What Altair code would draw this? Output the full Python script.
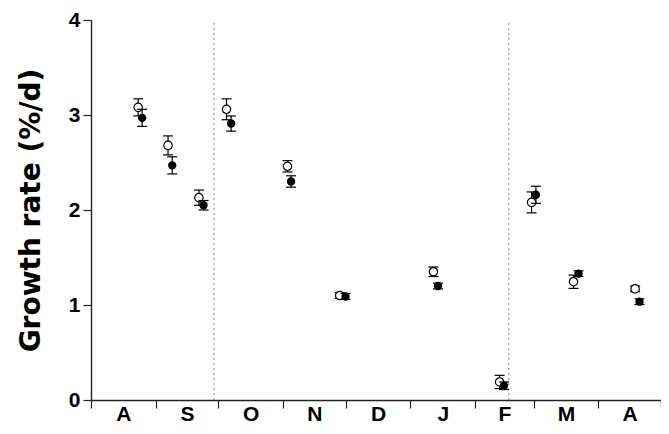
import altair as alt
import pandas as pd

# Calendar: Aug .. Apr, day 0 = 1 August
month_letters = ["A", "S", "O", "N", "D", "J", "F", "M", "A"]
month_days = [31, 30, 31, 30, 31, 31, 28, 31, 30]

# Open circles
open_day = [22.6, 36.9, 51.7, 64.9, 94.1, 119.1, 164.0, 195.7, 211.0, 231.1, 260.6]
open_rate = [3.08, 2.68, 2.13, 3.06, 2.46, 1.10, 1.35, 0.19, 2.08, 1.245, 1.17]
open_err = [0.09, 0.10, 0.08, 0.11, 0.06, 0.03, 0.05, 0.07, 0.11, 0.07, 0.03]

# Filled circles
filled_day = [24.5, 38.9, 53.9, 67.1, 95.8, 121.9, 166.2, 197.8, 213.1, 233.5, 262.7]
filled_rate = [2.97, 2.47, 2.05, 2.91, 2.30, 1.09, 1.20, 0.15, 2.16, 1.33, 1.035]
filled_err = [0.09, 0.09, 0.05, 0.08, 0.06, 0.03, 0.03, 0.04, 0.09, 0.03, 0.03]

# Dotted dividers
divider_day = [58.9, 200.1]

y_ticks = [0, 1, 2, 3, 4]

# month boundaries and mid-points derived from calendar lengths
boundaries = [0]
for d in month_days:
    boundaries.append(boundaries[-1] + d)
mids = [(boundaries[i] + boundaries[i + 1]) / 2 for i in range(len(month_days))]
total = boundaries[-1]

label_expr = "''"
for b, l in reversed(list(zip(boundaries[1:], month_letters))):
    label_expr = f"datum.value < {b} ? '{l}' : ({label_expr})"

W, H = 570, 380

open_df = pd.DataFrame({"day": open_day, "rate": open_rate,
                        "lo": [r - e for r, e in zip(open_rate, open_err)],
                        "hi": [r + e for r, e in zip(open_rate, open_err)]})
filled_df = pd.DataFrame({"day": filled_day, "rate": filled_rate,
                          "lo": [r - e for r, e in zip(filled_rate, filled_err)],
                          "hi": [r + e for r, e in zip(filled_rate, filled_err)]})
div_df = pd.DataFrame({"day": divider_day, "y0": [0, 0], "y1": [4, 4]})
mid_df = pd.DataFrame({"mid": mids, "letter": month_letters})

xscale = alt.Scale(domain=[0, total], nice=False, zero=False)
yscale = alt.Scale(domain=[0, 4], nice=False)

x_main_axis = alt.Axis(values=boundaries, labels=False, tickSize=8, tickColor="#222",
                       tickWidth=1.2, domainColor="#222", domainWidth=1.4, grid=False,
                       title=None, orient="bottom")
y_axis = alt.Axis(values=y_ticks, format="d", tickSize=8, tickColor="#222", tickWidth=1.2,
                  domainColor="#222", domainWidth=1.4, grid=False,
                  labelFont="Liberation Sans", labelFontSize=21, labelFontWeight="bold",
                  labelColor="black", labelPadding=3,
                  title="Growth rate (%/d)", titleFont="DejaVu Sans", titleFontSize=28,
                  titleFontWeight="bold", titleColor="black", titlePadding=23)

dividers = alt.Chart(div_df).mark_rule(color="#888", strokeDash=[2, 3], strokeWidth=1).encode(
    x=alt.X("day:Q", scale=xscale, axis=x_main_axis),
    y=alt.Y("y0:Q", scale=yscale, axis=y_axis),
    y2="y1:Q",
)

def errbars(df):
    rule = alt.Chart(df).mark_rule(color="black", strokeWidth=1.2).encode(
        x=alt.X("day:Q", scale=xscale), y=alt.Y("lo:Q", scale=yscale), y2="hi:Q")
    lo = alt.Chart(df).mark_tick(orient="horizontal", size=10, thickness=1.2, color="black",
                                 opacity=1).encode(
        x=alt.X("day:Q", scale=xscale), y=alt.Y("lo:Q", scale=yscale))
    hi = alt.Chart(df).mark_tick(orient="horizontal", size=10, thickness=1.2, color="black",
                                 opacity=1).encode(
        x=alt.X("day:Q", scale=xscale), y=alt.Y("hi:Q", scale=yscale))
    return rule + lo + hi

open_pts = alt.Chart(open_df).mark_circle(size=70, fill="white", stroke="black",
                                          strokeWidth=1.2, opacity=1).encode(
    x=alt.X("day:Q", scale=xscale), y=alt.Y("rate:Q", scale=yscale))
filled_pts = alt.Chart(filled_df).mark_circle(size=70, color="black", opacity=1).encode(
    x=alt.X("day:Q", scale=xscale), y=alt.Y("rate:Q", scale=yscale))

main = alt.layer(dividers, errbars(open_df), open_pts, errbars(filled_df), filled_pts)

labels_layer = alt.Chart(mid_df).mark_point(opacity=0).encode(
    x=alt.X("mid:Q", scale=xscale,
            axis=alt.Axis(values=mids, labelExpr=label_expr, ticks=False, domain=False,
                          grid=False, title=None, orient="bottom", labelFlush=False,
                          labelOverlap=False, labelFont="Liberation Sans", labelFontSize=21,
                          labelFontWeight="bold", labelColor="black", labelPadding=3)),
    y=alt.value(0),
)

chart = alt.layer(main, labels_layer).resolve_axis(x="independent").properties(
    width=W, height=H,
    autosize=alt.AutoSizeParams(type="none"),
    padding={"left": 83, "top": 12, "right": 0, "bottom": 26},
    background="white",
).configure_view(stroke=None)

chart.save("out.html", embed_options={"renderer": "svg", "actions": False})
